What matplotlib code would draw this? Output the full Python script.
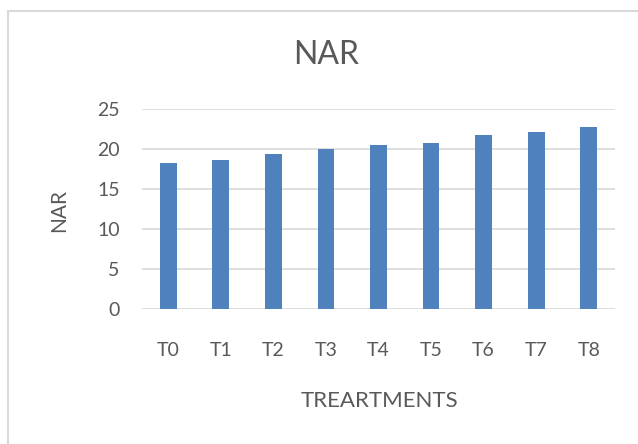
import matplotlib
matplotlib.use("Agg")
import matplotlib.pyplot as plt
from matplotlib.patches import Rectangle

# data
treatments = ["T0", "T1", "T2", "T3", "T4", "T5", "T6", "T7", "T8"]
nar = [18.3, 18.6, 19.4, 20.0, 20.5, 20.8, 21.7, 22.1, 22.8]

plt.rcParams['font.family'] = ['Lato', 'DejaVu Sans']
grey = '#595959'

fig = plt.figure(figsize=(6.38, 4.44), dpi=100)
# outer chart border (right and bottom run off the picture)
fig.patches.append(Rectangle((8 / 638, -0.05), 1.0, 1 - 11 / 444 + 0.05,
                             transform=fig.transFigure, fill=False,
                             edgecolor='#d9d9d9', linewidth=1.5))

ax = fig.add_axes([142 / 638, 1 - 309 / 444, 473 / 638, 200 / 444])
ax.bar(range(len(treatments)), nar, width=0.32, color='#4f81bd', zorder=3)
ax.set_xlim(-0.5, len(treatments) - 0.5)
ax.set_ylim(0, 25)
ax.set_yticks([0, 5, 10, 15, 20, 25])
ax.set_xticks(range(len(treatments)))
ax.set_xticklabels(treatments)
ax.grid(axis='y', color='#d9d9d9', linewidth=1.2, zorder=0)
for s in ax.spines.values():
    s.set_visible(False)
ax.tick_params(length=0, labelsize=14, colors=grey)
ax.tick_params(axis='x', pad=24)
ax.tick_params(axis='y', pad=16)

fig.text(326 / 638, 1 - 55 / 444, 'NAR', ha='center', va='center', fontsize=23, color=grey)
fig.text(59 / 638, 1 - 210 / 444, 'NAR', ha='center', va='center', rotation=90,
         fontsize=15, color=grey)
fig.text(379 / 638, 1 - 401 / 444, 'TREARTMENTS', ha='center', va='center',
         fontsize=16, color=grey)

fig.savefig('out.png', dpi=100)
